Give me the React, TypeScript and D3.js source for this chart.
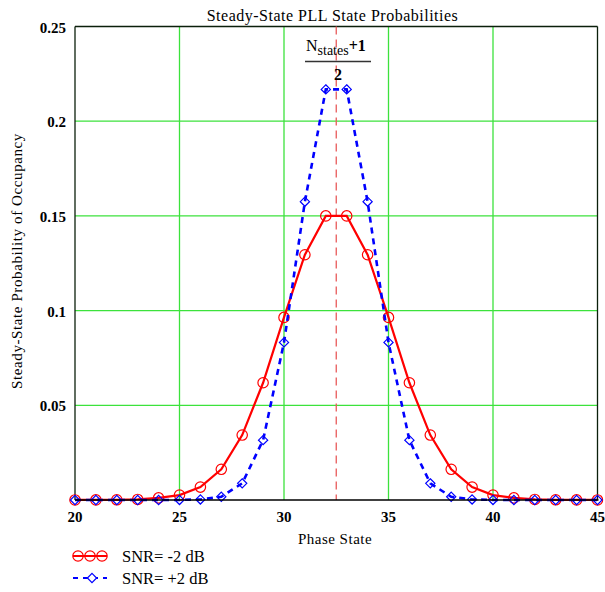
import React from "react";
import * as d3 from "d3";

const states = d3.range(20, 46);
const redHalf = [0.00002, 0.00004, 0.0001, 0.0003, 0.0011, 0.0026, 0.0068, 0.0162, 0.0343, 0.0619, 0.0964, 0.1295, 0.15];
const blueHalf = [0, 0, 0, 0, 0.00001, 0.00003, 0.0003, 0.0017, 0.0088, 0.0316, 0.0832, 0.1575, 0.2168];
const redValues = [...redHalf, ...redHalf.slice().reverse()];
const blueValues = [...blueHalf, ...blueHalf.slice().reverse()];
const xTicks = [20, 25, 30, 35, 40, 45];
const yTicks = [0.05, 0.1, 0.15, 0.2, 0.25];
const yTickLabels = ["0.05", "0.1", "0.15", "0.2", "0.25"];
const center = 32.5;
const seriesNames = ["SNR= -2 dB", "SNR= +2 dB"];

export default function App() {
  const W = 605, H = 592;
  const L = 75, R = 597.5, T = 26.5, B = 500;
  const x = d3.scaleLinear().domain([20, 45]).range([L, R]);
  const y = d3.scaleLinear().domain([0, 0.25]).range([B, T]);
  const line = d3.line<number>().x((_, i) => x(states[i])).y((d) => y(d));
  const grid = "#3ce23c";
  const red = "#ff0000";
  const blue = "#0000ff";
  const serif = "'Liberation Serif', 'Times New Roman', serif";
  const diamond = (cx: number, cy: number, r = 5) =>
    `M${cx},${cy - r}L${cx + r},${cy}L${cx},${cy + r}L${cx - r},${cy}Z`;

  return (
    <svg width={W} height={H} style={{ position: "fixed", left: 0, top: 0, background: "#fff" }} fontFamily={serif}>
      <rect width={W} height={H} fill="#fff" />
      <defs>
        <clipPath id="plot">
          <rect x={L - 6} y={T - 6} width={R - L + 12} height={B - T + 12} />
        </clipPath>
      </defs>
      {/* grid */}
      {xTicks.filter((t) => t > 20 && t < 45).map((t) => (
        <line key={"gx" + t} x1={x(t)} x2={x(t)} y1={T} y2={B} stroke={grid} strokeWidth={1.3} />
      ))}
      {yTicks.filter((t) => t < 0.25).map((t) => (
        <line key={"gy" + t} x1={L} x2={R} y1={y(t)} y2={y(t)} stroke={grid} strokeWidth={1.3} />
      ))}
      {/* frame */}
      <line x1={L} x2={R} y1={T} y2={T} stroke="#0b1f0b" strokeWidth={1.3} />
      <line x1={L} x2={L} y1={T} y2={B} stroke="#0b1f0b" strokeWidth={1.3} />
      <line x1={R} x2={R} y1={T} y2={B} stroke="#0b1f0b" strokeWidth={1.3} />
      {/* center marker */}
      <line x1={x(center)} x2={x(center)} y1={T} y2={B} stroke="#e85a5a" strokeWidth={1.3} strokeDasharray="8,5" />
      <g clipPath="url(#plot)">
        <path d={line(redValues) || ""} fill="none" stroke={red} strokeWidth={2.2} />
        {redValues.map((v, i) => (
          <circle key={"r" + i} cx={x(states[i])} cy={y(v)} r={5.2} fill="none" stroke={red} strokeWidth={1.2} />
        ))}
        <path d={line(blueValues) || ""} fill="none" stroke={blue} strokeWidth={2.6} strokeDasharray="6,5" />
        {blueValues.map((v, i) => (
          <path key={"b" + i} d={diamond(x(states[i]), y(v), 4.6)} fill="none" stroke={blue} strokeWidth={1.2} />
        ))}
      </g>
      <line x1={L} x2={R + 1} y1={B} y2={B} stroke="#000" strokeWidth={1.6} />
      {/* tick labels */}
      {xTicks.map((t) => (
        <text key={"xt" + t} x={x(t)} y={522} textAnchor="middle" fontSize={15} fontWeight="bold">{t}</text>
      ))}
      {yTicks.map((t, i) => (
        <text key={"yt" + t} x={66} y={y(t) + 6} textAnchor="end" fontSize={15} fontWeight="bold">{yTickLabels[i]}</text>
      ))}
      {/* titles */}
      <text x={332.5} y={20.5} textAnchor="middle" fontSize={16} letterSpacing={0.5}>Steady-State PLL State Probabilities</text>
      <text x={335} y={544} textAnchor="middle" fontSize={15} letterSpacing={0.5}>Phase State</text>
      <text transform={`translate(22,${261}) rotate(-90)`} textAnchor="middle" fontSize={15} letterSpacing={0.6}>Steady-State Probability of Occupancy</text>
      {/* annotation */}
      <text x={306} y={51} fontSize={16}>
        N<tspan fontSize={14} dy={4}>states</tspan><tspan dy={-4} fontWeight="bold">+1</tspan>
      </text>
      <line x1={305} x2={371} y1={61.5} y2={61.5} stroke="#333" strokeWidth={1.3} />
      <text x={338} y={80} textAnchor="middle" fontSize={16} fontWeight="bold">2</text>
      {/* legend */}
      <g>
        <line x1={73} x2={107} y1={556} y2={556} stroke={red} strokeWidth={2} />
        {[78, 90, 102].map((cx) => (
          <circle key={"lc" + cx} cx={cx} cy={556} r={5.2} fill="none" stroke={red} strokeWidth={1.2} />
        ))}
        <text x={122} y={561.5} fontSize={16.5}>{seriesNames[0]}</text>
        <line x1={73} x2={107} y1={578} y2={578} stroke={blue} strokeWidth={2.2} strokeDasharray="5,5" />
        <path d={diamond(92, 578, 4.6)} fill="#fff" stroke={blue} strokeWidth={1.2} />
        <text x={122} y={583.5} fontSize={16.5}>{seriesNames[1]}</text>
      </g>
    </svg>
  );
}
